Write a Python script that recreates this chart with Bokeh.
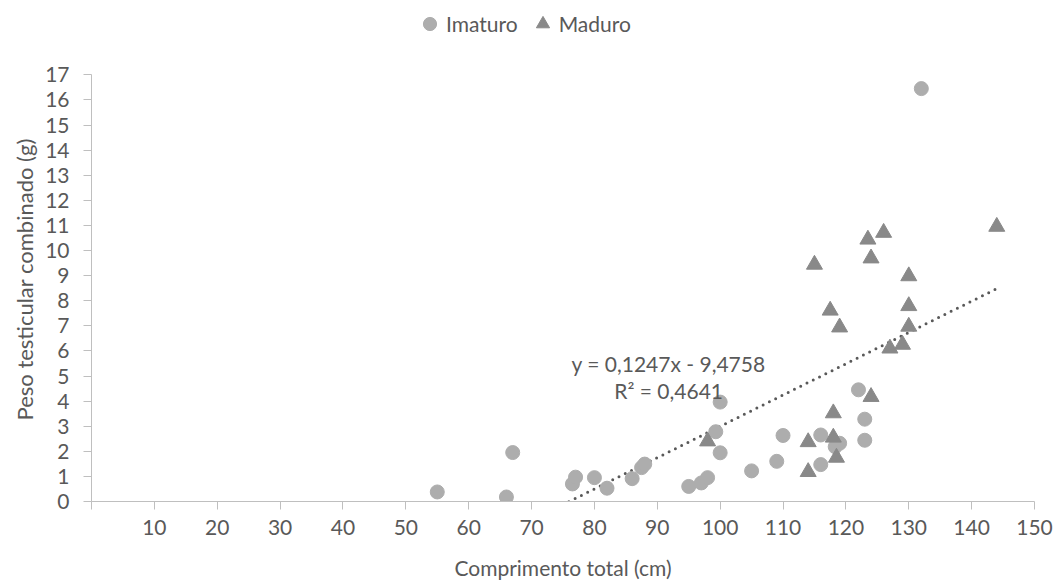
from bokeh.plotting import figure
from bokeh.models import Range1d, FixedTicker, Legend, LegendItem, Label, Title
from bokeh.embed import file_html
from bokeh.resources import INLINE
import numpy as np

# ---- data ----
imaturo_x = [55, 66, 67, 76.5, 77, 80, 82, 86, 87.5, 88, 95, 97, 98, 99.3, 100, 100,
             105, 109, 110, 116, 116, 118.3, 119, 122, 123, 123, 132]
imaturo_y = [0.38, 0.18, 1.95, 0.70, 0.97, 0.95, 0.53, 0.91, 1.35, 1.49, 0.60, 0.74,
             0.95, 2.78, 3.96, 1.94, 1.22, 1.60, 2.63, 2.65, 1.47, 2.18, 2.32, 4.45,
             3.28, 2.44, 16.45]
maduro_x = [98, 114, 114, 115, 117.5, 118, 118, 118.5, 119, 123.5, 124, 124, 126, 127,
            129, 130, 130, 130, 144]
maduro_y = [2.40, 2.37, 1.18, 9.44, 7.61, 3.52, 2.55, 1.75, 6.94, 10.44, 9.69, 4.17,
            10.71, 6.10, 6.25, 8.98, 7.79, 6.97, 10.95]
trend_slope = 0.1247
trend_intercept = -9.4758
trend_r2 = 0.4641
x_ticks = list(range(0, 151, 10))
y_ticks = list(range(0, 18))

FONT = "Lato"
FS = "21px"
TXT = "#595959"
AX = "#BFBFBF"

# layout: frame spans whole height above the x axis; y axis drawn only 0..17
W, H = 1056, 584
BOTTOM = 83
TOP_PX = 74.3                      # pixel row of the y=17 tick
frame_h = H - BOTTOM
y_max = max(y_ticks)
y_top = y_max * frame_h / (frame_h - TOP_PX)

p = figure(width=W, height=H, x_range=Range1d(0, 150), y_range=Range1d(0, y_top),
           output_backend="svg", toolbar_location=None,
           min_border_left=91, min_border_right=22, min_border_top=0, min_border_bottom=BOTTOM)
p.outline_line_color = None
p.xgrid.visible = False
p.ygrid.visible = False

# trendline
tx = np.array([min(imaturo_x + maduro_x), max(imaturo_x + maduro_x)])
ty = trend_slope * tx + trend_intercept
p.line(tx, ty, line_color="#595959", line_width=3, line_dash="0 7", line_cap="round")

r_im = p.scatter(imaturo_x, imaturo_y, marker="circle", size=14,
                 fill_color="#ADADAD", line_color="#ADADAD")
r_ma = p.scatter(maduro_x, maduro_y, marker="triangle", size=16,
                 fill_color="#898989", line_color="#898989")

# axes
for ax in (p.xaxis[0], p.yaxis[0]):
    ax.axis_line_color = AX
    ax.major_tick_line_color = AX
    ax.major_tick_out = 8
    ax.major_tick_in = 0
    ax.minor_tick_line_color = None
    ax.major_label_text_font = FONT
    ax.major_label_text_font_size = FS
    ax.major_label_text_color = TXT
    ax.axis_label_text_font = FONT
    ax.axis_label_text_font_size = FS
    ax.axis_label_text_color = TXT
    ax.axis_label_text_font_style = "normal"

p.xaxis.ticker = FixedTicker(ticks=x_ticks)
p.xaxis.major_label_overrides = {0: ""}
p.yaxis.ticker = FixedTicker(ticks=y_ticks)
p.yaxis.bounds = (0, y_max)
p.xaxis.major_label_standoff = 10
p.yaxis.major_label_standoff = 14
p.xaxis.axis_label = "Comprimento total (cm)"
p.xaxis.axis_label_standoff = 17

# y axis title
ytitle = Title(text="Peso testicular combinado (g)", align="left", offset=81, standoff=10,
               text_font=FONT, text_font_size="22px", text_color=TXT, text_font_style="normal")
p.add_layout(ytitle, "left")

# trend equation
eq1 = "y = " + f"{trend_slope:.4f}".replace(".", ",") + "x - " + f"{-trend_intercept:.4f}".replace(".", ",")
eq2 = "R² = " + f"{trend_r2:.4f}".replace(".", ",")
for txt, yy in ((eq1, 5.50), (eq2, 4.41)):
    p.add_layout(Label(x=91.8, y=yy, text=txt, text_align="center", text_baseline="middle",
                       text_font=FONT, text_font_size=FS, text_color=TXT))

legend = Legend(items=[LegendItem(label="Imaturo", renderers=[r_im]),
                       LegendItem(label="Maduro", renderers=[r_ma])],
                orientation="horizontal", location=(322, frame_h - 40),
                glyph_width=33, glyph_height=33, label_standoff=0, spacing=8,
                padding=0, margin=0, border_line_alpha=0, background_fill_alpha=0,
                label_text_font=FONT, label_text_font_size=FS, label_text_color=TXT)
p.add_layout(legend)

open("out.html", "w").write(file_html(p, INLINE))
